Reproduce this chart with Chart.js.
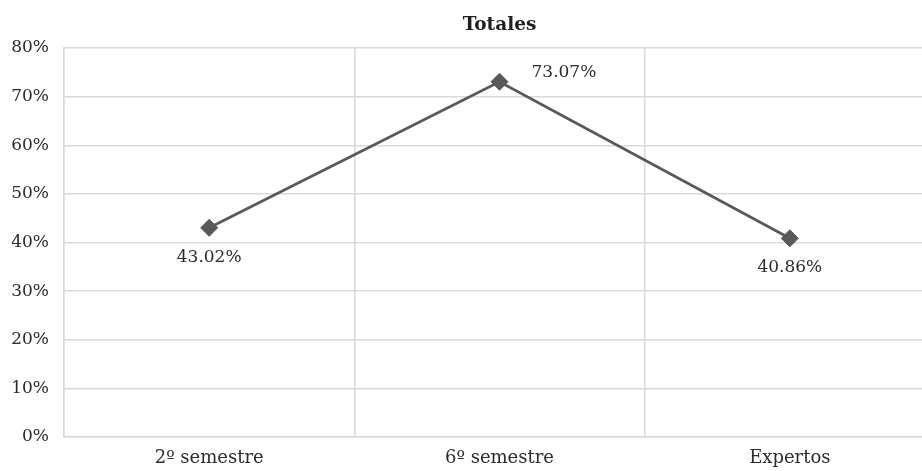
<!DOCTYPE html>
<html>
<head>
<meta charset="utf-8">
<script src="https://cdn.jsdelivr.net/npm/chart.js@4/dist/chart.umd.min.js"></script>
<style>
  html, body { margin: 0; padding: 0; background: #fff; overflow: hidden; width: 922px; height: 471px; }
  canvas { display: block; }
</style>
</head>
<body>
<canvas id="c" width="1000" height="471" style="width:1000px;height:471px"></canvas>
<script>
// Groups and their overall percentage
const categories = ['2º semestre', '6º semestre', 'Expertos'];
const totals = [43.02, 73.07, 40.86];
// Percentage axis
const yMin = 0;
const yMax = 80;
const yStep = 10;
// Where each value label sits relative to its marker
const labelPlacement = ['below', 'right', 'below'];

const SERIF = '"DejaVu Serif", "Liberation Serif", serif';
const TEXT = '#2b2b2b';
const GRID = '#d9d9d9';

// Centre the title over the plot area rather than the whole canvas
const titleOverPlot = {
  id: 'titleOverPlot',
  afterLayout(chart) {
    const t = chart.titleBlock;
    if (t) {
      t.left = chart.chartArea.left;
      t.right = chart.chartArea.right;
    }
  }
};

const valueLabels = {
  id: 'valueLabels',
  afterDatasetsDraw(chart) {
    const ctx = chart.ctx;
    const meta = chart.getDatasetMeta(0);
    ctx.save();
    ctx.font = '17px ' + SERIF;
    ctx.fillStyle = TEXT;
    ctx.textBaseline = 'middle';
    meta.data.forEach((pt, i) => {
      const text = totals[i].toFixed(2) + '%';
      if (labelPlacement[i] === 'right') {
        ctx.textAlign = 'left';
        ctx.fillText(text, pt.x + 32, pt.y - 9);
      } else {
        ctx.textAlign = 'center';
        ctx.fillText(text, pt.x, pt.y + 29.5);
      }
    });
    ctx.restore();
  }
};

function draw() {
  new Chart(document.getElementById('c'), {
    type: 'line',
    data: {
      labels: categories,
      datasets: [{
        data: totals,
        borderColor: '#595959',
        backgroundColor: '#595959',
        borderWidth: 2.75,
        pointStyle: 'rectRot',
        pointRadius: 8.5,
        pointHoverRadius: 8.5,
        pointBorderWidth: 1,
        pointBorderColor: '#595959',
        pointBackgroundColor: '#595959',
        tension: 0,
        fill: false
      }]
    },
    options: {
      responsive: false,
      animation: false,
      devicePixelRatio: 1,
      layout: { padding: { left: 0, top: 0, bottom: 0, right: 65 } },
      plugins: {
        legend: { display: false },
        tooltip: { enabled: false },
        title: {
          display: true,
          text: 'Totales',
          color: '#1f1f1f',
          font: { family: SERIF, size: 18.5, weight: 'bold', lineHeight: 1.2 },
          padding: { top: 14, bottom: 11.8 }
        }
      },
      scales: {
        x: {
          offset: true,
          afterFit: s => { s.height = 34; },
          grid: { offset: true, color: GRID, lineWidth: 1.5, drawTicks: false },
          border: { color: GRID, width: 1.5 },
          ticks: { color: TEXT, padding: 11, font: { family: SERIF, size: 18 } }
        },
        y: {
          min: yMin,
          max: yMax,
          afterFit: s => { s.width = 64; },
          grid: { color: GRID, lineWidth: 1.5, drawTicks: false },
          border: { color: GRID, width: 1.5 },
          ticks: {
            stepSize: yStep,
            color: TEXT,
            padding: 15,
            font: { family: SERIF, size: 17 },
            callback: v => v + '%'
          }
        }
      }
    },
    plugins: [titleOverPlot, valueLabels]
  });
}

Promise.all([
  document.fonts.load('17px "DejaVu Serif"'),
  document.fonts.load('bold 18px "DejaVu Serif"')
]).then(draw, draw);
</script>
</body>
</html>
